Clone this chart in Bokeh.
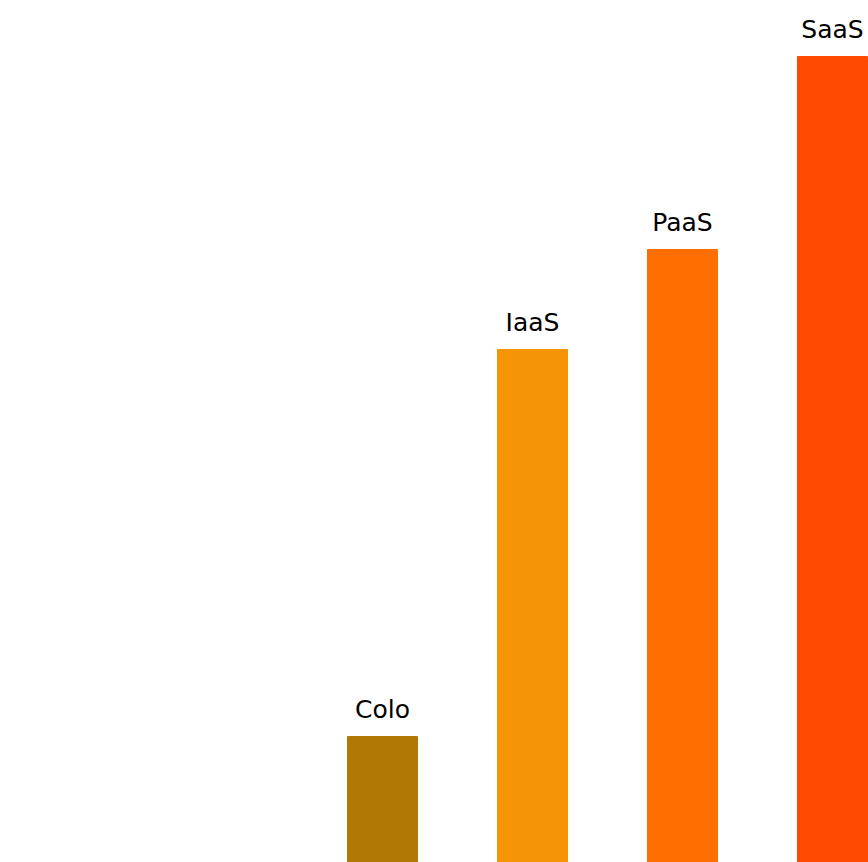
from bokeh.plotting import figure
from bokeh.models import ColumnDataSource, Range1d
from bokeh.core.properties import value
from bokeh.embed import file_html
from bokeh.resources import INLINE

categories = ["Colo", "IaaS", "PaaS", "SaaS"]
values = [12.6, 51.3, 61.3, 80.6]
colors = ["#B07904", "#F59505", "#FF6E00", "#FF4A00"]

idx = list(range(len(categories)))
src = ColumnDataSource(dict(x=idx, top=values, label=categories, color=colors))

p = figure(width=868, height=862, output_backend="svg", toolbar_location=None,
           x_range=Range1d(-2.5467, 3.24), y_range=Range1d(0, 86.2),
           min_border=0, outline_line_color=None)
p.axis.visible = False
p.grid.visible = False
p.background_fill_color = "white"

p.vbar(x="x", top="top", bottom=0, width=0.4667, color="color", source=src)
p.text(x="x", y="top", text="label", source=src, text_align="center",
       text_baseline="bottom", y_offset=-13, text_font=value("DejaVu Sans"),
       text_font_size="25px", text_color="#000000")

open("out.html", "w").write(file_html(p, INLINE))
